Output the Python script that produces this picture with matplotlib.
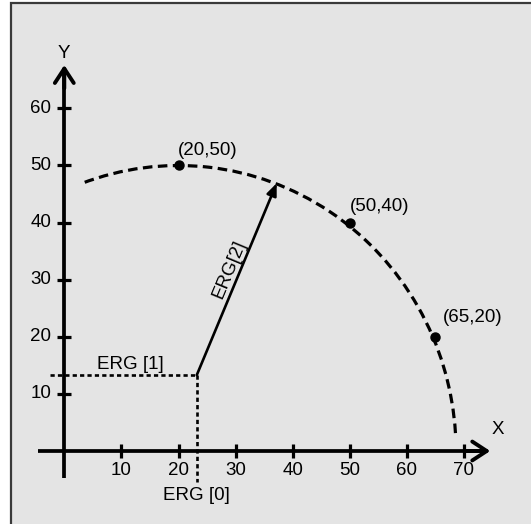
import matplotlib
matplotlib.use("Agg")
import matplotlib.pyplot as plt
from matplotlib.patches import Arc, Rectangle
import numpy as np

plt.rcParams['font.family'] = ['Liberation Sans', 'DejaVu Sans']

# ---- data ----
x_ticks = [10, 20, 30, 40, 50, 60, 70]
y_ticks = [10, 20, 30, 40, 50, 60]
pt_x = [20, 50, 65]
pt_y = [50, 40, 20]
pt_labels = ["(20,50)", "(50,40)", "(65,20)"]
erg0 = 23.2          # centre x
erg1 = 13.3          # centre y
erg2_tip = (37.2, 46.9)
arc_center = (20, 0)
arc_rx, arc_ry = 48.6, 50
arc_theta = (3.7, 110.0)

W, H = 531, 524
fig = plt.figure(figsize=(W / 100, H / 100), dpi=100)
fig.patch.set_facecolor('white')
fig.add_artist(Rectangle((11 / W, -0.05), 1.0, 1.05 - 3 / H, transform=fig.transFigure,
                         facecolor='#e4e4e4', edgecolor='#3a3a3a', lw=1.6, zorder=0))

ax = fig.add_axes([0, 0, 1, 1])
ax.set_facecolor('none')
ax.axis('off')
sx = 5.71
ax.set_xlim(-64.3 / sx, (W - 64.3) / sx)
ax.set_ylim((451 - H) / sx, 451 / sx)

fs = 13.5
# axes with chevron arrowheads
ax.plot([-4.6, 74.0], [0, 0], color='black', lw=2.7, solid_capstyle='butt')
ax.plot([0, 0], [-4.7, 67.0], color='black', lw=2.7, solid_capstyle='butt')
ax.annotate('', xy=(74.6, 0), xytext=(70.5, 0),
            arrowprops=dict(arrowstyle='->,head_length=0.52,head_width=0.34', lw=2.8,
                            color='black', mutation_scale=20, shrinkA=0, shrinkB=0))
ax.annotate('', xy=(0, 67.6), xytext=(0, 63.5),
            arrowprops=dict(arrowstyle='->,head_length=0.52,head_width=0.34', lw=2.8,
                            color='black', mutation_scale=20, shrinkA=0, shrinkB=0))

# ticks
ax.plot(x_ticks, [0] * len(x_ticks), ls='', marker='|', ms=9.5, mew=2.3, color='black')
ax.plot([0] * len(y_ticks), y_ticks, ls='', marker='_', ms=10.5, mew=2.3, color='black')
for t in x_ticks:
    ax.text(t, -3.35, str(t), ha='center', va='center', fontsize=fs)
for t in y_ticks:
    ax.text(-2.3, t, str(t), ha='right', va='center', fontsize=fs)
ax.text(0, 69.6, 'Y', ha='center', va='center', fontsize=fs)
ax.text(75.9, 3.7, 'X', ha='center', va='center', fontsize=fs)

# arc
ax.add_patch(Arc(arc_center, 2 * arc_rx, 2 * arc_ry, theta1=arc_theta[0], theta2=arc_theta[1],
                 lw=2.3, ls=(0, (3.0, 1.7)), color='black', zorder=3))

# points
ax.plot(pt_x, pt_y, ls='', marker='o', ms=6.5, color='black', zorder=4)
lab_off = [(-0.1, 2.7), (0.0, 2.9), (1.3, 3.3)]
for x, y, s, (dx, dy) in zip(pt_x, pt_y, pt_labels, lab_off):
    ax.text(x + dx, y + dy, s, ha='left', va='center', fontsize=fs)

# dotted reference lines
ax.plot([-2.5, erg0], [erg1, erg1], color='black', lw=1.9, ls=(0, (1.6, 1.2)))
ax.plot([erg0, erg0], [erg1, -5.4], color='black', lw=1.9, ls=(0, (1.6, 1.2)))
ax.text(11.5, 15.2, 'ERG [1]', ha='center', va='center', fontsize=fs)
ax.text(erg0, -7.8, 'ERG [0]', ha='center', va='center', fontsize=fs)

# radius arrow
ax.annotate('', xy=erg2_tip, xytext=(erg0, erg1),
            arrowprops=dict(arrowstyle='-|>,head_length=0.6,head_width=0.25', lw=1.9,
                            color='black', mutation_scale=12, shrinkA=0, shrinkB=0))
ang = np.degrees(np.arctan2((erg2_tip[1] - erg1), (erg2_tip[0] - erg0)))
ax.text(29.0, 31.9, 'ERG[2]', ha='center', va='center', rotation=ang,
        rotation_mode='anchor', fontsize=fs)

fig.savefig('out.png', dpi=100)
